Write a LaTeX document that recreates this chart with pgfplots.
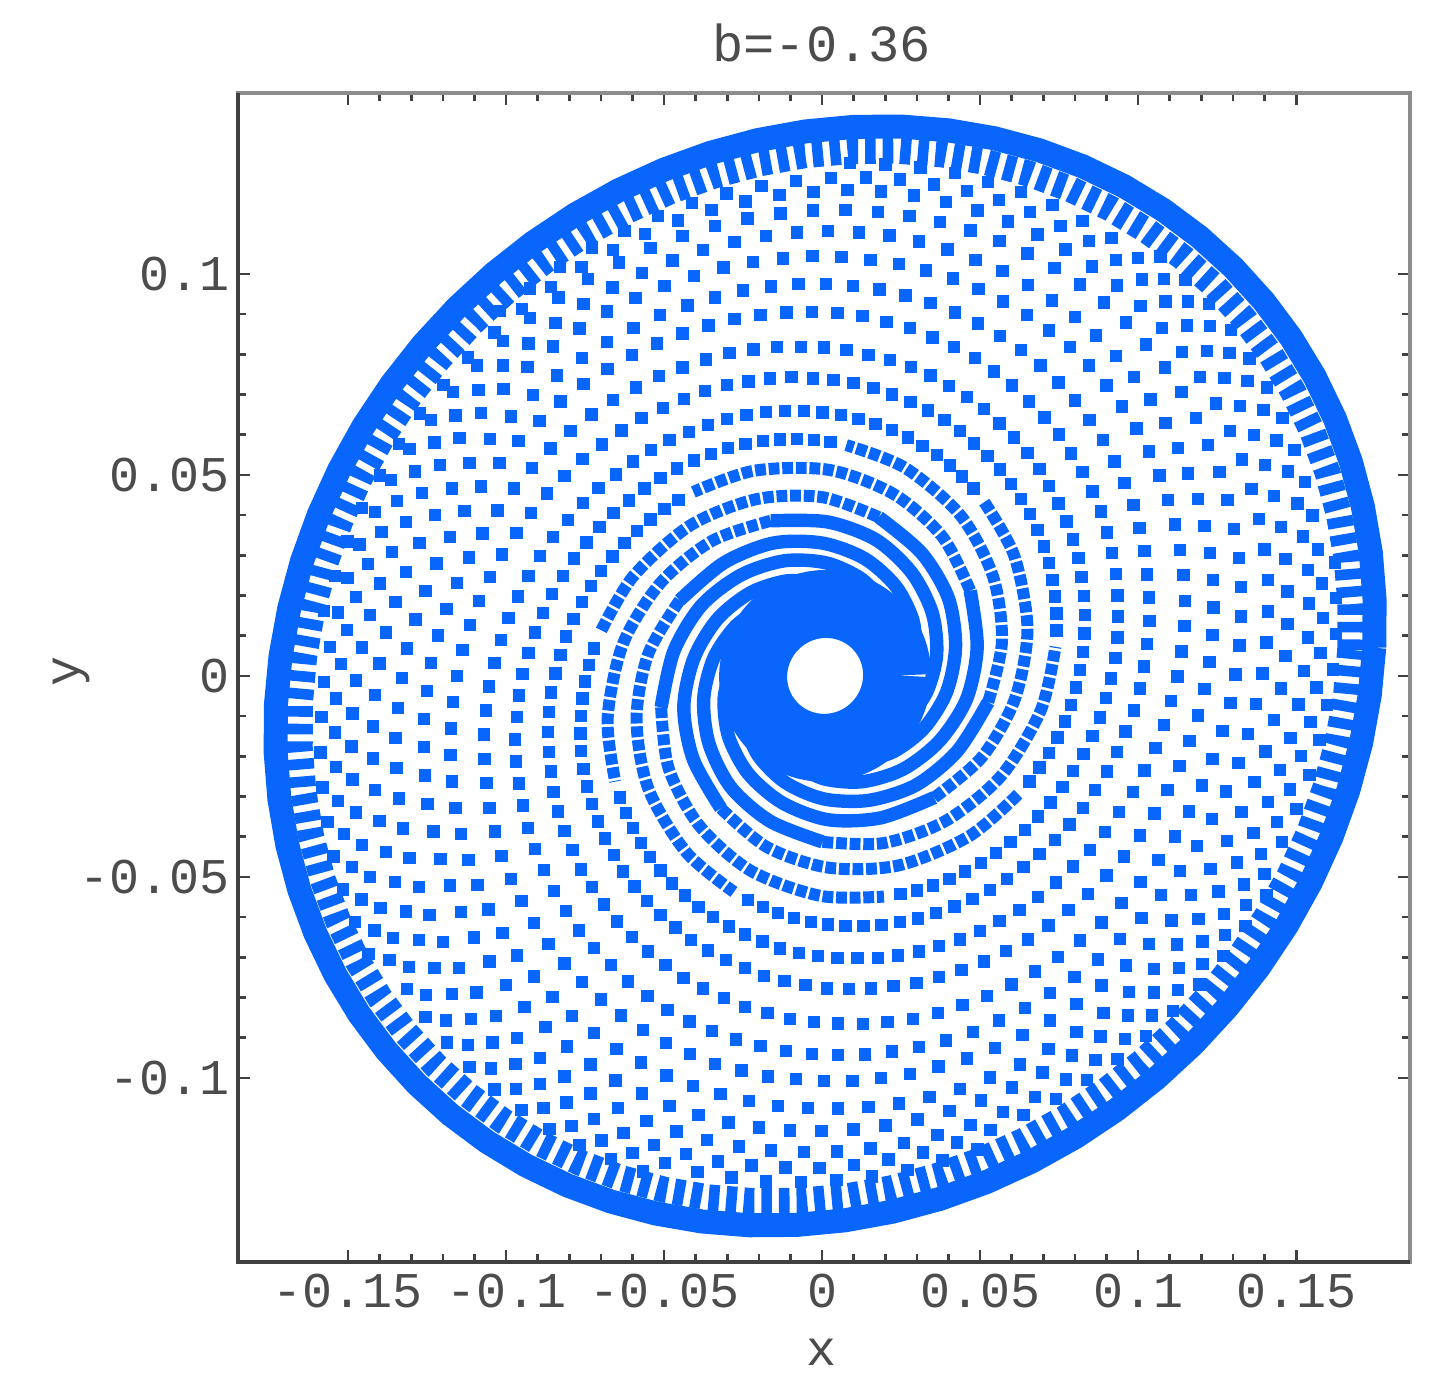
\documentclass[border=0pt]{standalone}
\usepackage{fontspec}
\setmainfont{Liberation Mono}
\usepackage{pgfplots}
\usepackage{pgfplotstable}
\pgfplotsset{compat=1.18}
\definecolor{dotblue}{RGB}{8,102,252}

% r and angle of every arm, r in reference pixels
\pgfplotstableread{
r a0 a1 a2 a3 a4 a5 a6 a7 a8
93 -110 -68 -30 12 50 92 130 172 210
103 -90 -48 -10 32 70 112 150 192 230
113 -70 -28 10 52 90 132 170 212 250
123 -50 -8 30 72 110 152 190 232 270
133 -30 12 50 92 130 172 210 252 290
144 -10 32 70 112 150 192 230 272 310
154 10 52 90 132 170 212 250 292 330
166 30 72 110 152 190 232 270 312 350
}\solidarms

% dots that nearly touch
\pgfplotstableread{
r a0 a1 a2 a3 a4 a5 a6 a7 a8
166 30 72 110 152 190 232 270 312 350
179 50 92 130 172 210 252 290 332 370
192 70 112 150 192 230 272 310 352 390
206 90 132 170 212 250 292 330 372 410
220 110 152 190 232 270 312 350 392 430
231 126 168 206 248 286 328 366 408 446
}\closearms

\pgfplotstableread{
r a0 a1 a2 a3 a4 a5 a6 a7 a8
234 130 172 210 252 290 332 370 412 450
237 134 176 214 256 294 336 374 416 454
240 138 180 218 260 298 340 378 420 458
243 142 184 222 264 302 344 382 424 462
246 146 188 226 268 306 348 386 428 466
249 150 192 230 272 310 352 390 432 470
252 154 196 234 276 314 356 394 436 474
255 158 200 238 280 318 360 398 440 478
258 162 204 242 284 322 364 402 444 482
261 166 208 246 288 326 368 406 448 486
264 170 212 250 292 330 372 410 452 490
267 174 216 254 296 334 376 414 456 494
270 178 220 258 300 338 380 418 460 498
274 182 224 262 304 342 384 422 464 502
277 186 228 266 308 346 388 426 468 506
280 190 232 270 312 350 392 430 472 510
283 194 236 274 316 354 396 434 476 514
286 198 240 278 320 358 400 438 480 518
290 202 244 282 324 362 404 442 484 522
293 206 248 286 328 366 408 446 488 526
296 210 252 290 332 370 412 450 492 530
299 214 256 294 336 374 416 454 496 534
303 218 260 298 340 378 420 458 500 538
306 222 264 302 344 382 424 462 504 542
309 226 268 306 348 386 428 466 508 546
313 230 272 310 352 390 432 470 512 550
316 234 276 314 356 394 436 474 516 554
319 238 280 318 360 398 440 478 520 558
322 242 284 322 364 402 444 482 524 562
326 246 288 326 368 406 448 486 528 566
329 250 292 330 372 410 452 490 532 570
332 254 296 334 376 414 456 494 536 574
336 258 300 338 380 418 460 498 540 578
339 262 304 342 384 422 464 502 544 582
343 266 308 346 388 426 468 506 548 586
346 270 312 350 392 430 472 510 552 590
349 274 316 354 396 434 476 514 556 594
353 278 320 358 400 438 480 518 560 598
356 282 324 362 404 442 484 522 564 602
360 286 328 366 408 446 488 526 568 606
363 290 332 370 412 450 492 530 572 610
366 294 336 374 416 454 496 534 576 614
369 298 340 378 420 458 500 538 580 618
372 302 344 382 424 462 504 542 584 622
375 306 348 386 428 466 508 546 588 626
378 310 352 390 432 470 512 550 592 630
381 314 356 394 436 474 516 554 596 634
384 318 360 398 440 478 520 558 600 638
387 322 364 402 444 482 524 562 604 642
390 326 368 406 448 486 528 566 608 646
393 330 372 410 452 490 532 570 612 650
396 334 376 414 456 494 536 574 616 654
398 338 380 418 460 498 540 578 620 658
401 342 384 422 464 502 544 582 624 662
403 346 388 426 468 506 548 586 628 666
406 350 392 430 472 510 552 590 632 670
409 354 396 434 476 514 556 594 636 674
411 358 400 438 480 518 560 598 640 678
414 362 404 442 484 522 564 602 644 682
416 366 408 446 488 526 568 606 648 686
419 370 412 450 492 530 572 610 652 690
422 374 416 454 496 534 576 614 656 694
424 378 420 458 500 538 580 618 660 698
427 382 424 462 504 542 584 622 664 702
430 386 428 466 508 546 588 626 668 706
432 390 432 470 512 550 592 630 672 710
435 394 436 474 516 554 596 634 676 714
438 398 440 478 520 558 600 638 680 718
441 402 444 482 524 562 604 642 684 722
443 406 448 486 528 566 608 646 688 726
446 410 452 490 532 570 612 650 692 730
448 414 456 494 536 574 616 654 696 734
450 418 460 498 540 578 620 658 700 738
452 422 464 502 544 582 624 662 704 742
454 426 468 506 548 586 628 666 708 746
456 430 472 510 552 590 632 670 712 750
458 434 476 514 556 594 636 674 716 754
460 438 480 518 560 598 640 678 720 758
462 442 484 522 564 602 644 682 724 762
464 446 488 526 568 606 648 686 728 766
466 450 492 530 572 610 652 690 732 770
468 454 496 534 576 614 656 694 736 774
470 458 500 538 580 618 660 698 740 778
472 462 504 542 584 622 664 702 744 782
474 466 508 546 588 626 668 706 748 786
476 470 512 550 592 630 672 710 752 790
478 474 516 554 596 634 676 714 756 794
480 478 520 558 600 638 680 718 760 798
482 482 524 562 604 642 684 722 764 802
484 486 528 566 608 646 688 726 768 806
486 490 532 570 612 650 692 730 772 810
487 494 536 574 616 654 696 734 776 814
489 498 540 578 620 658 700 738 780 818
490 502 544 582 624 662 704 742 784 822
491 506 548 586 628 666 708 746 788 826
493 510 552 590 632 670 712 750 792 830
494 514 556 594 636 674 716 754 796 834
495 518 560 598 640 678 720 758 800 838
497 522 564 602 644 682 724 762 804 842
498 526 568 606 648 686 728 766 808 846
499 530 572 610 652 690 732 770 812 850
500 534 576 614 656 694 736 774 816 854
502 538 580 618 660 698 740 778 820 858
503 542 584 622 664 702 744 782 824 862
505 546 588 626 668 706 748 786 828 866
506 550 592 630 672 710 752 790 832 870
507 554 596 634 676 714 756 794 836 874
509 558 600 638 680 718 760 798 840 878
510 562 604 642 684 722 764 802 844 882
511 566 608 646 688 726 768 806 848 886
513 570 612 650 692 730 772 810 852 890
}\dotarms

% closed rings: centre blob, solid rim, rim teeth
\pgfplotstableread{
t blob rim teeth
0 72 549 525
5 72 549 525
10 72 549 525
15 72 549 525
20 72 549 525
25 72 549 525
30 72 549 525
35 72 549 525
40 72 549 525
45 72 549 525
50 72 549 525
55 72 549 525
60 72 549 525
65 72 549 525
70 72 549 525
75 72 549 525
80 72 549 525
85 72 549 525
90 72 549 525
95 72 549 525
100 72 549 525
105 72 549 525
110 72 549 525
115 72 549 525
120 72 549 525
125 72 549 525
130 72 549 525
135 72 549 525
140 72 549 525
145 72 549 525
150 72 549 525
155 72 549 525
160 72 549 525
165 72 549 525
170 72 549 525
175 72 549 525
180 72 549 525
185 72 549 525
190 72 549 525
195 72 549 525
200 72 549 525
205 72 549 525
210 72 549 525
215 72 549 525
220 72 549 525
225 72 549 525
230 72 549 525
235 72 549 525
240 72 549 525
245 72 549 525
250 72 549 525
255 72 549 525
260 72 549 525
265 72 549 525
270 72 549 525
275 72 549 525
280 72 549 525
285 72 549 525
290 72 549 525
295 72 549 525
300 72 549 525
305 72 549 525
310 72 549 525
315 72 549 525
320 72 549 525
325 72 549 525
330 72 549 525
335 72 549 525
340 72 549 525
345 72 549 525
350 72 549 525
355 72 549 525
360 72 549 525
}\rings

% polar reading in pixels to axis units, with the slight tilt of the outline
\newcommand{\xpol}[2]{(3+#1*(cos(#2)+0.0000938*#1*sin(#2)))/3160}
\newcommand{\ypol}[2]{#1*(sin(#2)+0.0000938*#1*cos(#2))/4020}

\begin{document}
\begin{tikzpicture}
\path[use as bounding box] (-119pt,-66pt) rectangle (600.5pt,631pt);
\begin{axis}[
  at={(0,0)}, anchor=south west,
  scale only axis, width=586pt, height=584.5pt,
  xmin=-0.1848, xmax=0.186, ymin=-0.1458, ymax=0.145,
  xtick={-0.15,-0.1,-0.05,0,0.05,0.1,0.15},
  xticklabels={-0.15,-0.1,-0.05,0,0.05,0.1,0.15},
  ytick={-0.1,-0.05,0,0.05,0.1},
  yticklabels={-0.1,-0.05,0,0.05,0.1},
  minor tick num=4,
  major tick length=6pt, minor tick length=4pt,
  tick style={black!75, line width=1.3pt},
  axis line style={black!45, line width=2.2pt},
  tick label style={text=black!70, font=\fontsize{25}{25}\selectfont, inner sep=0pt},
  xticklabel style={yshift=-6pt},
  yticklabel style={xshift=-4pt},
  xlabel={x}, ylabel={y}, title={b=-0.36},
  label style={text=black!70, font=\fontsize{25}{25}\selectfont, inner sep=0pt},
  xlabel style={at={(axis description cs:0.498,-0.077)}, anchor=center},
  ylabel style={at={(axis description cs:-0.142,0.505)}, anchor=center},
  title style={at={(axis description cs:0.498,1.0325)}, anchor=center, text=black!70,
    font=\fontsize{26}{26}\selectfont, inner sep=0pt},
]
  % centre blob and rim
  \addplot[dotblue, line width=34pt, line join=round] table[
    x expr={\xpol{\thisrow{blob}}{\thisrow{t}}}, y expr={\ypol{\thisrow{blob}}{\thisrow{t}}}] {\rings};
  \addplot[dotblue, line width=12pt, line join=round] table[
    x expr={\xpol{\thisrow{rim}}{\thisrow{t}}}, y expr={\ypol{\thisrow{rim}}{\thisrow{t}}}] {\rings};
  \addplot[dotblue, line width=13pt, dash pattern=on 5.3pt off 3.5pt] table[
    x expr={\xpol{\thisrow{teeth}}{\thisrow{t}}}, y expr={\ypol{\thisrow{teeth}}{\thisrow{t}}}] {\rings};
  % arms: solid near the centre, then close dots, then single dots
  \pgfplotsinvokeforeach{0,...,8}{
    \addplot[dotblue, line width=6.7pt, smooth] table[
      x expr={\xpol{\thisrow{r}}{\thisrow{a#1}}}, y expr={\ypol{\thisrow{r}}{\thisrow{a#1}}}] {\solidarms};
    \addplot[dotblue, line width=6pt, smooth, dash pattern=on 5.4pt off 1.4pt] table[
      x expr={\xpol{\thisrow{r}}{\thisrow{a#1}}}, y expr={\ypol{\thisrow{r}}{\thisrow{a#1}}}] {\closearms};
    \addplot[dotblue, only marks, mark=square*, mark size=2.85pt, mark options={draw=none, fill=dotblue}] table[
      x expr={\xpol{\thisrow{r}}{\thisrow{a#1}}}, y expr={\ypol{\thisrow{r}}{\thisrow{a#1}}}] {\dotarms};
  }
\end{axis}
\draw[black!75, line width=2.2pt] (0,584.5pt) -- (0,0) -- (586pt,0);
\end{tikzpicture}
\end{document}
